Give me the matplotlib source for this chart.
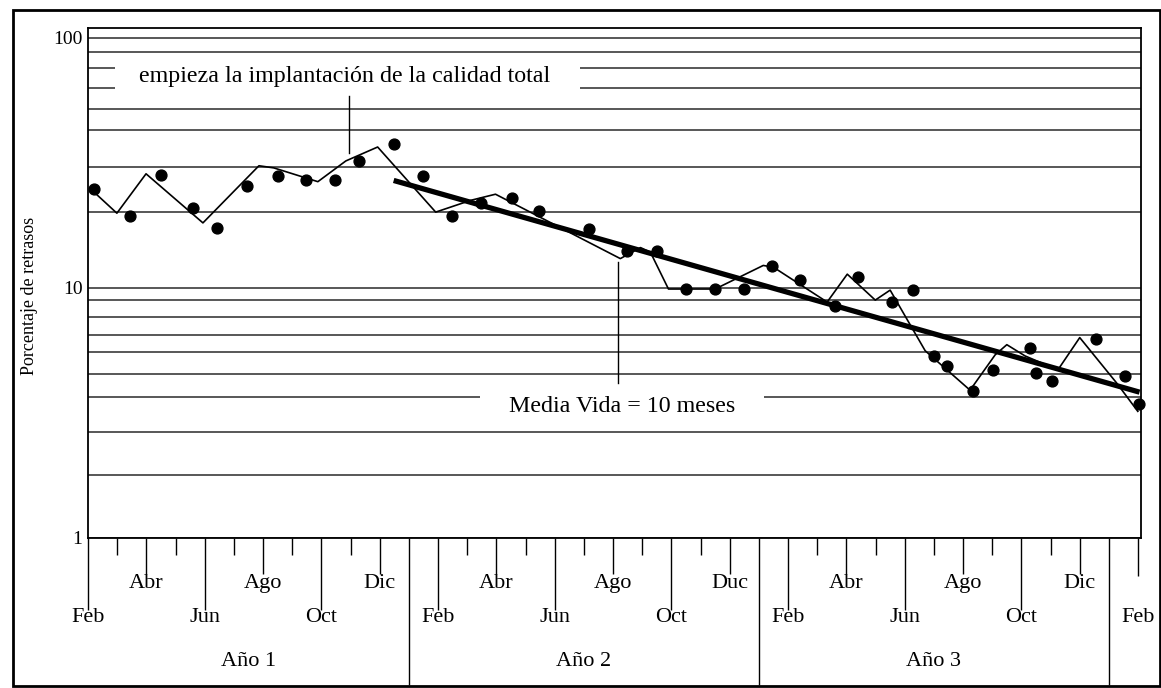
import matplotlib
matplotlib.use("Agg")
import matplotlib.pyplot as plt
from matplotlib.ticker import FixedLocator, NullFormatter
from matplotlib.patches import Rectangle

# ---------------- data ----------------
# month index: 0 = Feb of year 1, 12 = Feb of year 2, 24 = Feb of year 3, 36 = Feb of year 4
dot_month = [0.21, 1.44, 2.5, 3.6, 4.42, 5.44, 6.51, 7.47, 8.46, 9.3, 10.48,
             11.47, 12.47, 13.46, 14.55, 15.45, 17.16, 18.49, 19.52, 20.5, 21.5, 22.5,
             23.46, 24.42, 25.62, 26.4, 27.57, 28.29, 29.0, 29.45, 30.34, 31.03,
             32.29, 32.5, 33.04, 34.56, 35.55, 36.03]
dot_pct = [24.8, 19.4, 28.4, 20.8, 17.4, 25.5, 28.1, 26.9, 27.1, 32.2, 37.6,
           28.1, 19.4, 21.8, 22.8, 20.3, 17.2, 14.0, 14.1, 9.9, 9.9, 9.9,
           12.2, 10.75, 8.45, 11.1, 8.78, 9.8, 5.35, 4.88, 3.86, 4.70,
           5.77, 4.57, 4.24, 6.22, 4.44, 3.42]

line_month = [0.07, 0.99, 1.99, 3.94, 5.86, 6.37, 7.88, 8.84, 9.93, 11.92, 13.12,
              13.97, 18.25, 18.94, 19.28, 19.9, 21.5, 23.15, 23.5, 25.34, 26.03,
              26.99, 27.5, 28.7, 30.24, 31.1, 31.5, 32.12, 33.25, 34.0, 35.27, 35.99]
line_pct = [25.0, 19.9, 28.6, 18.2, 30.8, 30.2, 26.6, 32.2, 36.6, 20.1, 22.4,
            23.7, 13.1, 14.5, 13.9, 9.9, 9.9, 12.3, 12.1, 8.78, 11.35,
            8.94, 9.8, 5.61, 3.90, 5.40, 5.93, 5.35, 4.70, 6.33, 4.16, 3.21]

trend_month = [10.48, 36.05]
trend_pct = [26.9, 3.83]

# horizontal rule levels as drawn in the reference
grid_levels = [1.78, 2.66, 3.65, 4.53, 5.56, 6.51, 7.63, 8.94,
               20.1, 30.4, 42.9, 51.9, 62.9, 76.1, 88.1]

row1_months = [2, 6, 10, 14, 18, 22, 26, 30, 34]
row1_labels = ['Abr', 'Ago', 'Dic', 'Abr', 'Ago', 'Duc', 'Abr', 'Ago', 'Dic']
row2_months = [0, 4, 8, 12, 16, 20, 24, 28, 32, 36]
row2_labels = ['Feb', 'Jun', 'Oct', 'Feb', 'Jun', 'Oct', 'Feb', 'Jun', 'Oct', 'Feb']
year_dividers = [11, 23, 35]
year_centers = [5.5, 17, 29]
year_labels = ['Año 1', 'Año 2', 'Año 3']

y_ticks = [1, 10, 100]
y_ticklabels = ['1', '10', '100']

note1_text = 'empieza la implantación de la calidad total'
note1_month, note1_pct = 8.9, 70.0
pointer1_month, pointer1_pct = 8.94, [34.5, 58.5]
note2_text = 'Media Vida = 10 meses'
note2_month, note2_pct = 18.3, 3.36
pointer2_month, pointer2_pct = 18.18, [4.17, 12.7]

# ---------------- figure ----------------
plt.rcParams['font.family'] = ['Liberation Serif', 'DejaVu Serif']
W, H = 1161, 688
fig = plt.figure(figsize=(W / 100, H / 100), dpi=100)
ax = fig.add_axes([88 / W, 1 - 538 / H, (1141 - 88) / W, (538 - 28) / H])

ax.set_yscale('log')
ax.set_xlim(0, 36.1)
ax.set_ylim(1, 109.5)

# grid
ax.yaxis.set_major_locator(FixedLocator(y_ticks))
ax.set_yticklabels(y_ticklabels, fontsize=14)
ax.yaxis.set_minor_locator(FixedLocator(grid_levels))
ax.yaxis.set_minor_formatter(NullFormatter())
ax.tick_params(axis='y', which='both', length=0, pad=4)
ax.grid(True, axis='y', which='both', color='#2a2a2a', lw=1.1)
ax.set_axisbelow(True)

for s in ax.spines.values():
    s.set_linewidth(1.3)
    s.set_color('black')

# series
ax.plot(line_month, line_pct, color='black', lw=1.2, zorder=3, clip_on=False)
ax.plot(trend_month, trend_pct, color='black', lw=3.8, zorder=4,
        solid_capstyle='butt', clip_on=False)
ax.plot(dot_month, dot_pct, 'o', color='black', ms=7.8, zorder=5, clip_on=False)

# annotations
ax.text(note1_month, note1_pct, '   ' + note1_text + '    ', ha='center', va='center',
        fontsize=17.3, zorder=6,
        bbox=dict(facecolor='white', edgecolor='none', boxstyle='square,pad=0.25'))
ax.plot([pointer1_month, pointer1_month], pointer1_pct, color='black', lw=1.0, zorder=3)
ax.text(note2_month, note2_pct, '    ' + note2_text + '    ', ha='center', va='center',
        fontsize=17.3, zorder=6,
        bbox=dict(facecolor='white', edgecolor='none', boxstyle='square,pad=0.2'))
ax.plot([pointer2_month, pointer2_month], pointer2_pct, color='black', lw=1.0, zorder=3)

# x ticks with varying lengths
ax.set_xticks(range(37))
ax.set_xticklabels([])
ax.tick_params(axis='x', which='major', direction='out', width=1.0, color='black')
for i, t in enumerate(ax.xaxis.get_major_ticks()):
    if i in year_dividers:
        L = 106
    elif i == 36:
        L = 27
    elif i in row2_months:
        L = 52
    elif i in row1_months:
        L = 26
    else:
        L = 12
    t.tick1line.set_markersize(L)

xt = ax.get_xaxis_transform()
for m, lab in zip(row1_months, row1_labels):
    ax.annotate(lab, xy=(m, 0), xycoords=xt, xytext=(0, -32.5), textcoords='offset points',
                ha='center', va='center', fontsize=16)
for m, lab in zip(row2_months, row2_labels):
    ax.annotate(lab, xy=(m, 0), xycoords=xt, xytext=(0, -57), textcoords='offset points',
                ha='center', va='center', fontsize=16)
for m, lab in zip(year_centers, year_labels):
    ax.annotate(lab, xy=(m, 0), xycoords=xt, xytext=(0, -89), textcoords='offset points',
                ha='center', va='center', fontsize=16)

# y label
fig.text(30 / W, 1 - 296 / H, 'Porcentaje de retrasos', rotation=90,
         ha='center', va='center', fontsize=13)

# outer frame
fig.patches.append(Rectangle((13 / W, 1 - 686 / H), (1160 - 13) / W, (686 - 10) / H,
                             transform=fig.transFigure, fill=False, lw=2, ec='black'))

fig.savefig('out.png', dpi=100)
